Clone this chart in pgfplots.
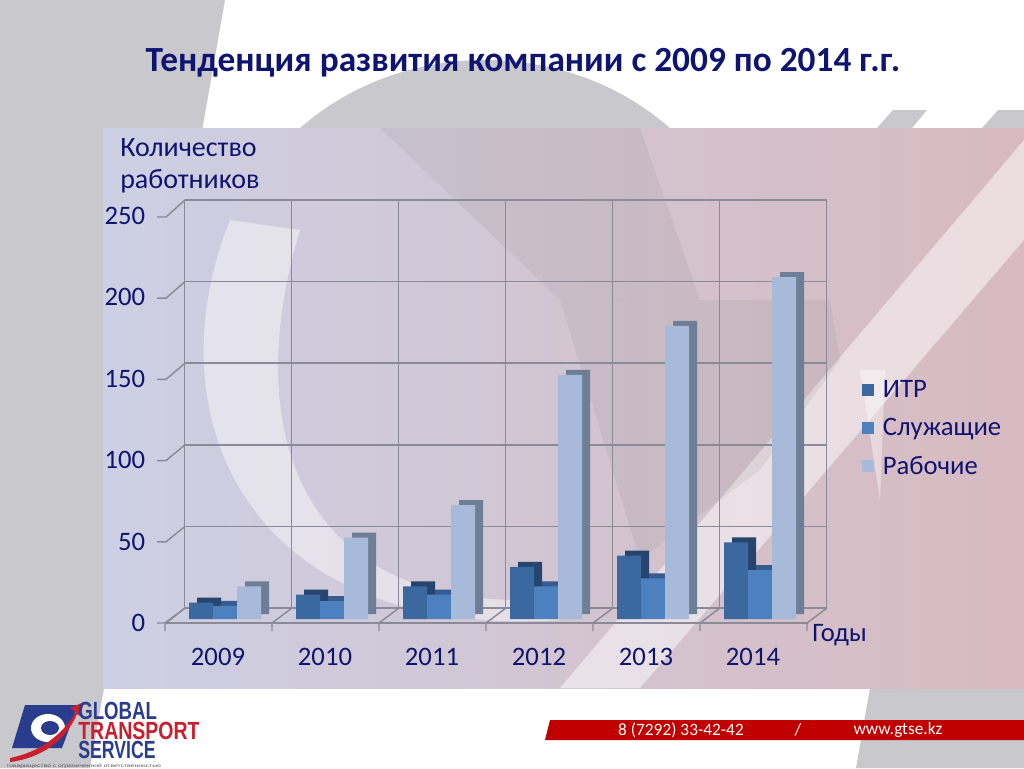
\documentclass[border=0pt]{standalone}
\usepackage{pgfplots}
\pgfplotsset{compat=1.18}
\usepackage{fontspec}
\setmainfont{Carlito}
\newfontfamily\logofont{Liberation Sans}
\definecolor{navy}{RGB}{15,20,112}
\definecolor{bggray}{RGB}{200,200,205}
\definecolor{gridc}{RGB}{138,138,152}
\definecolor{itrF}{RGB}{60,104,160}
\definecolor{itrS}{RGB}{38,68,110}
\definecolor{slF}{RGB}{77,128,190}
\definecolor{slS}{RGB}{52,92,145}
\definecolor{rbF}{RGB}{168,186,217}
\definecolor{rbS}{RGB}{110,126,150}
\definecolor{redband}{RGB}{192,0,0}
\definecolor{logoblue}{RGB}{42,60,142}
\definecolor{logored}{RGB}{200,32,47}
\pgfplotsset{sqlegend/.style={legend image code/.code={\fill[##1] (0pt,-4.5pt) rectangle (9pt,4.5pt);}}}
\begin{document}
\begin{tikzpicture}
\begin{scope}[x=0.75pt,y=-0.75pt]
\useasboundingbox (0,0) rectangle (1024,768);
% slide background
\fill[white] (0,0) rectangle (1024,768);
\fill[bggray] (0,0) -- (225,0) -- (90,768) -- (0,768) -- cycle;
\fill[bggray] (485,300) ellipse [x radius=265, y radius=240];
\fill[bggray] (877,128) -- (893,110) -- (927,110) -- (912,128) -- cycle;
\fill[bggray] (982,128) -- (998,110) -- (1024,110) -- (1024,128) -- cycle;
\fill[bggray] (870,688) -- (1024,688) -- (1024,768) -- (856,768) -- cycle;
% plot area
\fill[left color={rgb,255:red,205;green,208;blue,228}, right color={rgb,255:red,216;green,186;blue,192}] (103,128) rectangle (1024,688);
\fill[white, opacity=0.45] (230,220) .. controls (150,420) and (250,640) .. (560,620) -- (520,600) .. controls (300,600) and (240,430) .. (300,230) -- cycle;
\fill[white, opacity=0.5] (560,688) -- (640,688) -- (1024,240) -- (1024,140) -- cycle;
\fill[gray, opacity=0.12] (380,128) -- (640,128) -- (700,300) -- (560,300) -- cycle;
\fill[gray, opacity=0.12] (560,300) -- (830,300) -- (840,360) -- (760,470) -- (640,560) -- cycle;
\fill[white, opacity=0.4] (860,370) -- (885,370) -- (880,500) -- cycle;
% title
\node[anchor=base, text=navy, font=\fontsize{26.5}{30}\selectfont\bfseries] at (523,71) {Тенденция развития компании с 2009 по 2014 г.г.};
% y label
\node[anchor=base west, inner sep=0pt, text=navy, font=\fontsize{21}{25}\selectfont] at (120,156) {Количество};
\node[anchor=base west, inner sep=0pt, text=navy, font=\fontsize{21}{25}\selectfont] at (120,188) {работников};
\node[anchor=base west, inner sep=0pt, text=navy, font=\fontsize{20}{24}\selectfont] at (812,641) {Годы};
% footer band
\fill[redband] (550,720) -- (1024,720) -- (1024,740) -- (545,740) -- cycle;
\node[anchor=center, text=white, font=\fontsize{13}{15}\selectfont] at (681,730) {8 (7292) 33-42-42};
\node[anchor=center, text=white, font=\fontsize{13}{15}\selectfont] at (798,730) {/};
\node[anchor=center, text=white, font=\fontsize{13}{15}\selectfont] at (898,730) {www.gtse.kz};
% logo
\fill[logoblue] (25,705) -- (78,705) -- (62,748) -- (12,748) -- cycle;
\fill[white] (48,728) ellipse [x radius=17, y radius=14];
\fill[logoblue] (50,728) ellipse [x radius=9, y radius=7];
\fill[logored] (10,758) .. controls (40,752) and (62,735) .. (76,712) -- (70,708) -- (84,702) -- (80,716) -- (77,714) .. controls (66,740) and (42,758) .. (10,762) -- cycle;
\node[anchor=north west, inner sep=0pt, align=left, font=\fontsize{13.5}{14.7}\selectfont] at (78,702)
  {\textcolor{logoblue}{\resizebox{59pt}{13pt}{\logofont\bfseries GLOBAL}}\\
   \textcolor{logored}{\resizebox{91pt}{13pt}{\logofont\bfseries TRANSPORT}}\\
   \textcolor{logoblue}{\resizebox{58pt}{13pt}{\logofont\bfseries SERVICE}}};
\node[anchor=base west, inner sep=0pt, text=gray!70!black] at (6,767) {\resizebox{116pt}{2.6pt}{\logofont товарищество с ограниченной ответственностью}};
\end{scope}

% back wall grid
\begin{axis}[
  at={(138.375pt,-456pt)}, anchor=south west,
  width=481.5pt, height=306pt, scale only axis,
  xmin=-0.5, xmax=5.5, ymin=0, ymax=250,
  xtick={-0.5,0.5,...,5.5}, ytick={0,50,...,250},
  xticklabels={}, yticklabels={},
  grid=major, major grid style={gridc, line width=1.1pt},
  axis line style={draw=none}, tick style={draw=none},
]
\addplot[draw=none, forget plot] coordinates {(0,0)};
\end{axis}

% decorations of floor and left wall
\begin{scope}[x=0.75pt,y=-0.75pt, gridc, line width=1.1pt]
\draw (165,623) -- (808,623);
\foreach \k in {0,...,6} {
  \draw (165+107*\k,631) -- (165+107*\k,623) -- (185+107*\k,608);
}
\foreach \v in {0,50,...,250} {
  \draw (157,623-\v*1.624) -- (166,623-\v*1.624) -- (185,608-\v*1.632);
}
\end{scope}

% data axis
\begin{axis}[
  at={(123.375pt,-464.25pt)}, anchor=south west,
  width=481.5pt, height=305.25pt, scale only axis,
  xmin=-0.5, xmax=5.5, ymin=0, ymax=250,
  ybar, bar width=18pt, clip=false,
  xtick={0,...,5}, xticklabels={2009,2010,2011,2012,2013,2014},
  ytick={0,50,...,250},
  axis line style={draw=none}, tick style={draw=none},
  /pgf/number format/assume math mode=true,
  tick label style={font=\fontsize{20}{24}\selectfont, text=navy},
  xticklabel style={anchor=base, yshift=-30.5pt},
  yticklabel style={anchor=east, xshift=-11pt, yshift=-3pt},
  legend style={at={(1.0864,0.469)}, anchor=west, draw=none, fill=none,
    inner sep=0pt, font=\fontsize{20}{24}\selectfont, text=navy, row sep=10pt,
    /tikz/every odd column/.append style={column sep=4.5pt}},
  legend cell align=left,
]
\addplot[draw=none, fill=itrS, bar shift=-12.75pt, xshift=6pt, yshift=3.75pt, forget plot] coordinates {(0,10) (1,15) (2,20) (3,32) (4,39) (5,47)};
\addplot[draw=none, fill=itrF, bar shift=-12.75pt, sqlegend] coordinates {(0,10) (1,15) (2,20) (3,32) (4,39) (5,47)};
\addplot[draw=none, fill=slS, bar shift=5.25pt, xshift=6pt, yshift=3.75pt, forget plot] coordinates {(0,8) (1,11) (2,15) (3,20) (4,25) (5,30)};
\addplot[draw=none, fill=slF, bar shift=5.25pt, sqlegend] coordinates {(0,8) (1,11) (2,15) (3,20) (4,25) (5,30)};
\addplot[draw=none, fill=rbS, bar shift=23.25pt, xshift=6pt, yshift=3.75pt, forget plot] coordinates {(0,20) (1,50) (2,70) (3,150) (4,180) (5,210)};
\addplot[draw=none, fill=rbF, bar shift=23.25pt, sqlegend] coordinates {(0,20) (1,50) (2,70) (3,150) (4,180) (5,210)};
\legend{ИТР, Служащие, Рабочие}
\end{axis}
\end{tikzpicture}
\end{document}
